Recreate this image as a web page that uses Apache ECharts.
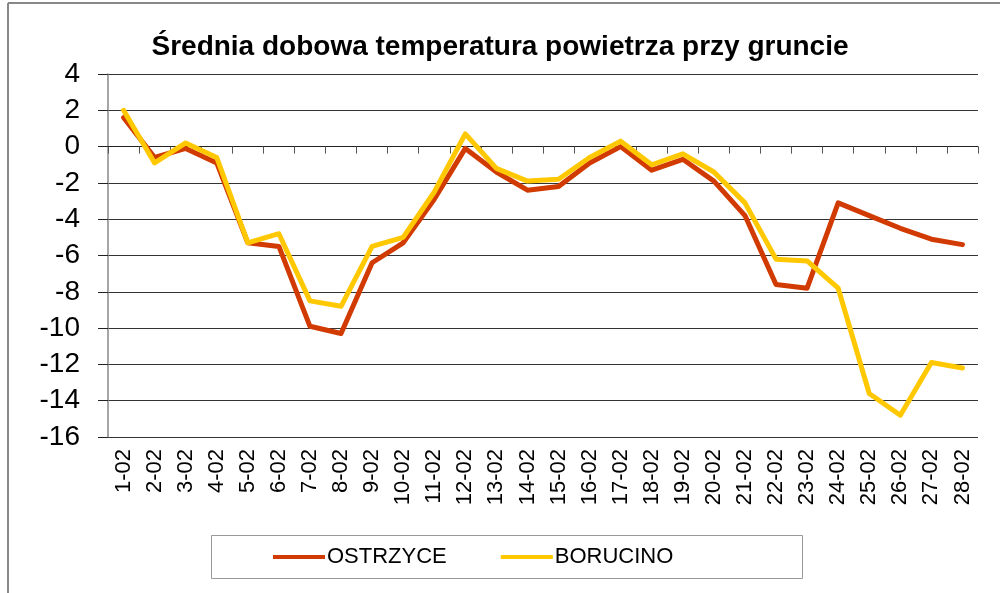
<!DOCTYPE html>
<html>
<head>
<meta charset="utf-8">
<script src="https://cdn.jsdelivr.net/npm/echarts@6/dist/echarts.min.js"></script>
<style>html,body{margin:0;padding:0;background:#fff}#c{width:1000px;height:593px}</style>
</head>
<body>
<div id="c"></div>
<script>
const categories = ['1-02','2-02','3-02','4-02','5-02','6-02','7-02','8-02','9-02','10-02','11-02','12-02','13-02','14-02','15-02','16-02','17-02','18-02','19-02','20-02','21-02','22-02','23-02','24-02','25-02','26-02','27-02','28-02'];
const ostrzyce = [1.6,-0.6,-0.1,-0.9,-5.3,-5.5,-9.9,-10.3,-6.4,-5.3,-2.9,-0.1,-1.4,-2.4,-2.2,-0.9,0.0,-1.3,-0.7,-1.9,-3.8,-7.6,-7.8,-3.1,-3.8,-4.5,-5.1,-5.4];
const borucino = [2.0,-0.9,0.2,-0.6,-5.3,-4.8,-8.5,-8.8,-5.5,-5.0,-2.5,0.7,-1.2,-1.9,-1.8,-0.6,0.3,-1.0,-0.4,-1.4,-3.1,-6.2,-6.3,-7.8,-13.6,-14.8,-11.9,-12.2];
const seriesNames = ['OSTRZYCE','BORUCINO'];
const titleText = 'Średnia dobowa temperatura powietrza przy gruncie';

const chart = echarts.init(document.getElementById('c'));
const sans = '"Liberation Sans", Arial, sans-serif';
chart.setOption({
  animation: false,
  backgroundColor: '#fff',
  title: {
    text: titleText, left: 'center', top: 28,
    textStyle: { fontFamily: sans, fontWeight: 'bold', fontSize: 28, color: '#000' }
  },
  graphic: [
    { type: 'line', shape: { x1: 8, y1: 3, x2: 1000, y2: 3 }, style: { stroke: '#888', lineWidth: 2 } },
    { type: 'line', shape: { x1: 8, y1: 3, x2: 8, y2: 593 }, style: { stroke: '#888', lineWidth: 2 } },
    { type: 'rect', shape: { x: 211.5, y: 535.5, width: 591, height: 43 }, style: { fill: 'none', stroke: '#999', lineWidth: 1 } }
  ],
  legend: {
    left: 268, top: 541, itemWidth: 52, itemHeight: 30, itemGap: 54,
    icon: 'path://M0,13 L50,13 L50,17 L0,17 Z',
    textStyle: { fontFamily: sans, fontSize: 22, color: '#000', padding: [0,0,0,-3] },
    data: seriesNames
  },
  grid: { left: 108, right: 22, top: 74, bottom: 156 },
  xAxis: {
    type: 'category', data: categories, boundaryGap: true,
    axisLine: { lineStyle: { color: '#222', width: 1 } },
    axisTick: { show: true, length: 7, lineStyle: { color: '#555' } },
    axisLabel: { rotate: 90, fontFamily: 'Arial, "Liberation Sans", sans-serif', fontSize: 22, color: '#000', margin: 12, interval: 0 }
  },
  yAxis: {
    type: 'value', min: -16, max: 4, interval: 2,
    axisLine: { show: true, lineStyle: { color: '#888', width: 1.5 } },
    axisTick: { show: true, length: 10, inside: false, lineStyle: { color: '#222' } },
    axisLabel: { fontFamily: 'Arial, "Liberation Sans", sans-serif', fontSize: 28, color: '#000', margin: 28 },
    splitLine: { lineStyle: { color: '#333', width: 1 } }
  },
  series: [
    { name: seriesNames[0], type: 'line', data: ostrzyce, symbol: 'none', color: '#D13A00',
      lineStyle: { width: 5, color: '#D13A00', cap: 'round', join: 'round' }, z: 2 },
    { name: seriesNames[1], type: 'line', data: borucino, symbol: 'none', color: '#FFC800',
      lineStyle: { width: 5, color: '#FFC800', cap: 'round', join: 'round' }, z: 3 }
  ]
});
</script>
</body>
</html>
